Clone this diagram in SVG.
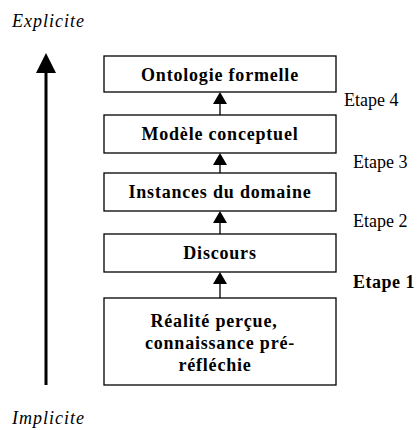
<svg xmlns="http://www.w3.org/2000/svg" width="417" height="430" viewBox="0 0 417 430">
<defs>
<style>
.box{fill:#fff;stroke:#000;stroke-width:1.3}
.bt{font-family:'Liberation Serif',serif;font-weight:bold;font-size:18px;fill:#000;text-anchor:middle}
.lab{font-family:'Liberation Serif',serif;font-size:18px;fill:#000}
.it{font-family:'Liberation Serif',serif;font-style:italic;font-size:18px;fill:#000}
.conn{stroke:#000;stroke-width:1.3;fill:none}
</style>
</defs>
<rect width="417" height="430" fill="#fff"/>
<text class="it" x="12" y="27" letter-spacing="1">Explicite</text>
<text class="it" x="12" y="424" letter-spacing="1">Implicite</text>
<g id="axis">
<line x1="46" y1="70" x2="46" y2="385" stroke="#000" stroke-width="3"/>
<polygon points="46,53 36,73 56,73" fill="#000"/>
</g>
<g id="connectors">
<line class="conn" x1="220" y1="115" x2="220" y2="100"/>
<polygon points="220,92 213,104 227,104" fill="#000"/>
<line class="conn" x1="220" y1="173" x2="220" y2="160"/>
<polygon points="220,153 213,165 227,165" fill="#000"/>
<line class="conn" x1="220" y1="234" x2="220" y2="218"/>
<polygon points="220,211 213,223 227,223" fill="#000"/>
<line class="conn" x1="220" y1="298" x2="220" y2="280"/>
<polygon points="220,272 213,284 227,284" fill="#000"/>
</g>
<g id="n1"><rect class="box" x="104" y="56" width="232" height="36"/><text class="bt" x="220" y="81" letter-spacing="0.8">Ontologie formelle</text></g>
<g id="n2"><rect class="box" x="104" y="115" width="232" height="38"/><text class="bt" x="220" y="140" letter-spacing="0.8">Modèle conceptuel</text></g>
<g id="n3"><rect class="box" x="104" y="173" width="232" height="38"/><text class="bt" x="220" y="198" letter-spacing="0.8">Instances du domaine</text></g>
<g id="n4"><rect class="box" x="104" y="234" width="232" height="38"/><text class="bt" x="220" y="259" letter-spacing="0.8">Discours</text></g>
<g id="n5"><rect class="box" x="104" y="298" width="232" height="87"/>
<text class="bt" x="214" y="327" letter-spacing="0.8">Réalité perçue,</text>
<text class="bt" x="220" y="349" letter-spacing="0.8">connaissance pré-</text>
<text class="bt" x="215" y="371" letter-spacing="0.8">réfléchie</text></g>
<g id="labels">
<text class="lab" x="344" y="106">Etape 4</text>
<text class="lab" x="353" y="168">Etape 3</text>
<text class="lab" x="353" y="227">Etape 2</text>
<text class="lab" x="353" y="288" font-weight="bold" letter-spacing="0.5">Etape 1</text>
</g>
</svg>
